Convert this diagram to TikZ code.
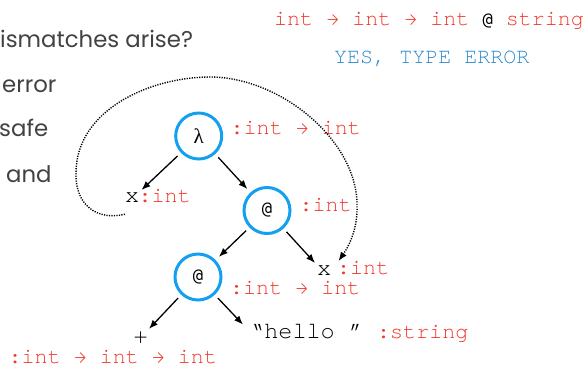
\documentclass[tikz,border=0pt]{standalone}
\usepackage{fontspec}
\usetikzlibrary{arrows.meta,calc}
\setmainfont{Poppins}
\newfontfamily\cur{texgyrecursor-regular.otf}
\newfontfamily\dsmono{DejaVu Sans Mono}
\newfontfamily\lserif{Liberation Serif}
\definecolor{typered}{RGB}{240,56,44}
\definecolor{answerblue}{RGB}{42,138,204}
\definecolor{nodeblue}{RGB}{20,160,240}
\definecolor{slidegray}{RGB}{66,66,66}
\newcommand\typesize{\fontsize{21.7}{24}\selectfont}
\newcommand\termsize{\fontsize{23.5}{26}\selectfont}
\newcommand\atsign{{\color{black}\dsmono\fontsize{17}{20}\selectfont @}}

\begin{document}
\begin{tikzpicture}[x=1pt,y=-1pt,
  typ/.style={text=typered, font=\cur\typesize, anchor=base west, inner sep=0pt},
  term/.style={text=black, font=\cur\termsize, anchor=base west, inner sep=2pt},
  slide/.style={text=slidegray, font=\fontsize{22.8}{26}\selectfont, anchor=base west, inner sep=0pt},
  opnode/.style={circle, draw=nodeblue, line width=3pt, minimum size=46pt, inner sep=0pt, outer sep=6pt},
  edge/.style={-{Latex[length=9pt,width=7pt]}, line width=1.3pt},
  refedge/.style={-{Latex[length=9pt,width=7pt]}, line width=1.4pt, dash pattern=on 1.2pt off 1.3pt}]
\useasboundingbox (0,0) rectangle (588,368);
\clip (0,0) rectangle (588,368);

% slide text on the left
\node[slide] (s1) at (0,47) {ismatches arise?};
\node[slide] (s2) at (2,92) {error};
\node[slide] (s3) at (-1,136) {safe};
\node[slide] (s4) at (6,182) {and};

% inferred types of the application
\node[typ] (goal) at (274,25) {int → int → int \atsign{} string};
\node[typ, text=answerblue] (verdict) at (334,63) {YES, TYPE ERROR};

% the syntax tree
\node[opnode] (lam) at (198.7,136) {\lserif\fontsize{21}{24}\selectfont λ};
\node[opnode] (app1) at (267,210.5) {\dsmono\fontsize{17}{20}\selectfont @};
\node[opnode] (app2) at (198,277) {\dsmono\fontsize{17}{20}\selectfont @};

\node[term] (xa) at (123,202) {x};
\node[typ] (xat) at (138.5,202) {:int};
\node[term] (xb) at (315,275) {x};
\node[typ] (xbt) at (337,274) {:int};
\node[term, inner sep=0pt] (plus) at (133.5,343) {+};
\node[term] (hello) at (248,338) {“hello ”};
\node[typ] (hellot) at (377,338) {:string};

\node[typ] (lamt) at (230.5,134) {:int → int};
\node[typ] (app1t) at (299.5,211) {:int};
\node[typ] (app2t) at (230,294) {:int → int};
\node[typ] (plust) at (8.5,363) {:int → int → int};

\draw[edge] (lam) -- (xa.north east);
\draw[edge] (lam) -- (app1);
\draw[edge] (app1) -- (app2);
\draw[edge] (app1) -- (xb.north west);
\draw[edge] (app2) -- ($(plus.north east)+(1,-2)$);
\draw[edge] (app2) -- ($(hello.north west)+(-5,3)$);

% binding of the variable to its use
\coordinate (bindL) at (76,173);
\coordinate (bindT) at (210,77);
\coordinate (bindR) at (357,205);
\draw[refedge] ($(xa.south west)+(2,10)$)
  .. controls (97,221) and (75,205) .. (bindL)
  .. controls (76,110) and (150,77) .. (bindT)
  .. controls (280,77) and (357,140) .. (bindR)
  .. controls (358,228) and (349,246) .. ($(xb.north east)+(5,-2)$);
\end{tikzpicture}
\end{document}
